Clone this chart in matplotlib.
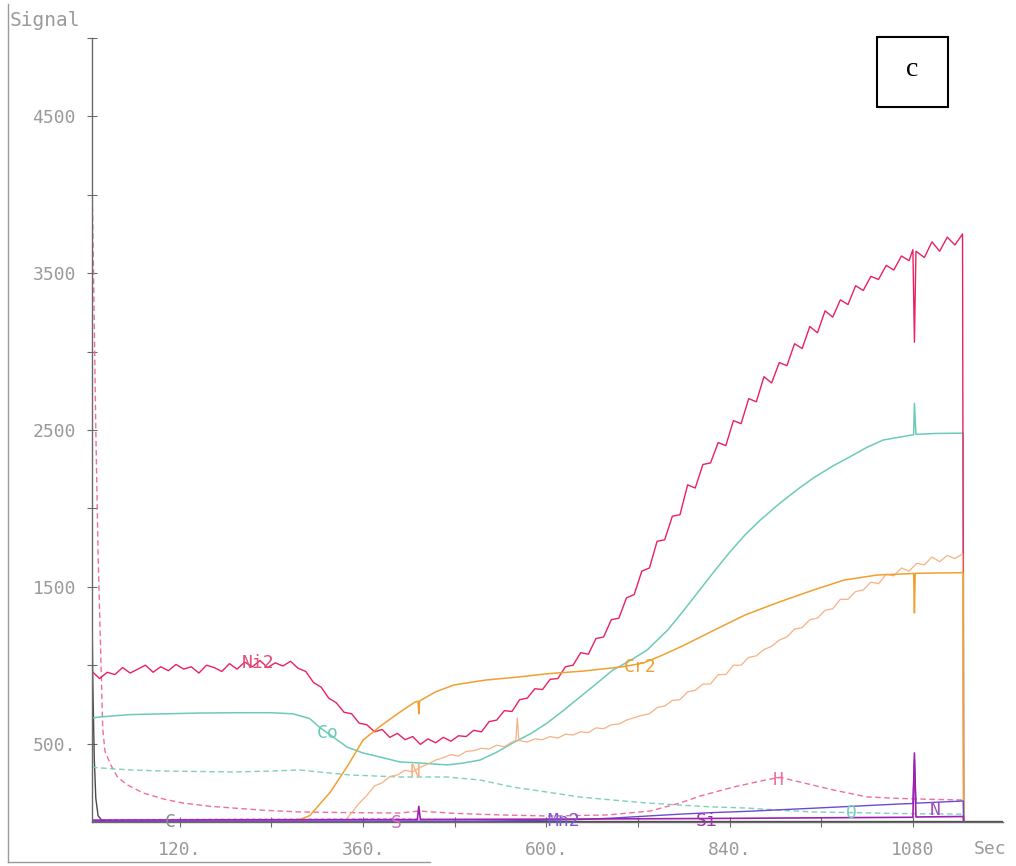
import matplotlib
matplotlib.use("Agg")
import matplotlib.pyplot as plt
from matplotlib.lines import Line2D
from matplotlib.patches import Rectangle

# ---------------- data (time in s, signal) ----------------
t_ni2 = [5, 15, 25, 35, 45, 55, 65, 75, 85, 95, 105, 115, 125, 135, 145, 155, 165, 175, 185, 195,
         205, 215, 225, 235, 245, 255, 265, 275, 285, 295, 305, 315, 325, 335, 345, 355, 365, 375,
         385, 395, 405, 415, 425, 435, 445, 455, 465, 475, 485, 495, 505, 515, 525, 535, 545, 555,
         565, 575, 585, 595, 605, 615, 625, 635, 645, 655, 665, 675, 685, 695, 705, 715, 725, 735,
         745, 755, 765, 775, 785, 795, 805, 815, 825, 835, 845, 855, 865, 875, 885, 895, 905, 915,
         925, 935, 945, 955, 965, 975, 985, 995, 1005, 1015, 1025, 1035, 1045, 1055, 1065, 1075,
         1080, 1082, 1084, 1095, 1105, 1115, 1125, 1135, 1145, 1146.5]
ni2 = [960, 915, 955, 940, 985, 950, 975, 1000, 955, 990, 965, 1005, 975, 990, 950, 1000, 985, 960,
       1010, 975, 1020, 990, 1030, 985, 1015, 995, 1025, 980, 960, 890, 860, 790, 760, 700, 690,
       630, 620, 575, 590, 540, 565, 525, 545, 495, 530, 505, 540, 515, 550, 545, 585, 575, 640,
       650, 710, 705, 780, 790, 850, 845, 910, 915, 990, 1000, 1080, 1070, 1170, 1180, 1290, 1300,
       1430, 1450, 1600, 1620, 1790, 1800, 1950, 1960, 2150, 2130, 2280, 2290, 2420, 2400, 2560,
       2540, 2700, 2680, 2840, 2800, 2930, 2910, 3050, 3020, 3160, 3120, 3260, 3220, 3330, 3300,
       3420, 3390, 3480, 3460, 3550, 3520, 3610, 3580, 3650, 3060, 3640, 3600, 3700, 3640, 3730,
       3680, 3750, 0]

t_co = [5, 15, 55, 100, 146, 200, 240, 268, 290, 304, 320, 339, 360, 382, 408, 435, 470, 490,
        513, 535, 556, 580, 601, 622, 644, 665, 687, 710, 732, 760, 780, 800, 820, 840, 860, 880,
        905, 930, 950, 975, 998, 1020, 1041, 1081, 1082, 1084, 1110, 1146, 1146.5]
co = [663, 670, 685, 690, 695, 697, 697, 690, 660, 600, 545, 478, 440, 415, 383, 376, 364, 375,
      395, 445, 504, 565, 631, 710, 797, 880, 969, 1030, 1097, 1230, 1350, 1475, 1600, 1720,
      1830, 1925, 2030, 2125, 2195, 2270, 2330, 2390, 2436, 2470, 2670, 2472, 2478, 2480, 0]

t_cr2 = [5, 100, 200, 260, 271, 290, 317, 340, 360, 385, 408, 428, 432, 433, 434, 455, 479, 520,
         564, 600, 649, 700, 727, 750, 778, 820, 860, 905, 950, 990, 1033, 1081, 1082, 1083,
         1110, 1146, 1146.5]
cr2 = [2, 3, 3, 3, 5, 40, 190, 360, 523, 620, 700, 765, 770, 690, 772, 830, 874, 905, 925, 945,
       963, 990, 1014, 1060, 1122, 1224, 1320, 1403, 1480, 1543, 1575, 1585, 1333, 1586, 1588,
       1590, 0]

t_n = [335, 345, 355, 365, 375, 385, 395, 405, 415, 425, 435, 445, 455, 465, 475, 485, 495, 505,
       515, 525, 535, 545, 555, 560, 562, 564, 575, 585, 595, 605, 615, 625, 635, 645, 655, 665,
       675, 685, 695, 705, 715, 725, 735, 745, 755, 765, 775, 785, 795, 805, 815, 825, 835, 845,
       855, 865, 875, 885, 895, 905, 915, 925, 935, 945, 955, 965, 975, 985, 995, 1005, 1015,
       1025, 1035, 1045, 1055, 1065, 1075, 1085, 1095, 1105, 1115, 1125, 1135, 1145, 1146.5]
n_sig = [0, 60, 120, 170, 230, 250, 290, 300, 330, 320, 350, 370, 395, 410, 430, 420, 450, 455,
         470, 465, 490, 480, 510, 520, 663, 520, 510, 530, 525, 545, 535, 560, 555, 575, 570, 600,
         595, 620, 625, 650, 665, 680, 690, 730, 740, 775, 780, 830, 840, 880, 880, 940, 940, 1000,
         1000, 1050, 1060, 1100, 1120, 1160, 1180, 1230, 1240, 1290, 1300, 1350, 1360, 1420, 1420,
         1470, 1480, 1530, 1520, 1580, 1570, 1620, 1600, 1650, 1640, 1690, 1660, 1700, 1680,
         1710, 0]

t_h = [5, 7, 10, 13, 16, 19, 22, 30, 38, 50, 72, 100, 124, 160, 190, 230, 277, 340, 408, 433,
       480, 540, 605, 680, 736, 775, 801, 845, 889, 906, 932, 976, 1020, 1063, 1100, 1146]
h_sig = [4100, 3500, 2500, 1700, 1150, 600, 450, 360, 290, 240, 185, 145, 121, 100, 89, 75, 64,
         60, 57, 70, 55, 45, 38, 45, 70, 121, 165, 223, 270, 285, 255, 204, 160, 150, 145, 140]

t_o = [5, 15, 30, 55, 100, 146, 190, 240, 277, 300, 343, 408, 470, 513, 556, 601, 644, 687, 732,
       775, 818, 863, 906, 950, 1000, 1050, 1100, 1146]
o_sig = [350, 345, 340, 332, 325, 322, 319, 325, 332, 320, 300, 287, 287, 268, 223, 191, 159, 140,
         121, 108, 96, 89, 75, 64, 60, 55, 52, 50]

t_c = [5, 6, 8, 10, 13, 18, 30, 600, 1146, 1198]
c_sig = [1380, 900, 400, 150, 40, 10, 5, 3, 3, 3]

t_s = [5, 200, 400, 431, 433, 435, 600, 800, 1000, 1080, 1082, 1084, 1146, 1146.5]
s_sig = [12, 14, 15, 15, 100, 16, 18, 22, 28, 30, 440, 32, 35, 0]

t_mn2 = [5, 500, 560, 601, 644, 687, 732, 775, 818, 863, 906, 950, 1000, 1063, 1080, 1082, 1084,
         1146, 1146.5]
mn2 = [3, 5, 8, 12, 16, 25, 38, 50, 60, 68, 78, 88, 100, 115, 118, 400, 120, 134, 0]

t_lav = [18, 100, 200, 300, 400, 500]
lav = [14, 16, 18, 18, 20, 14]

# curve labels: text, time, signal, colour
labels = [("Ni2", 222, 1015, "#e0507a"), ("Co", 314, 568, "#6ccbb8"),
          ("Cr2", 723, 988, "#f0a030"), ("N", 428, 319, "#f7b183"),
          ("C", 108, 0, "#8a8a8a"), ("S", 404, -8, "#d070c0"),
          ("Mn2", 622, 5, "#7a5ad0"), ("Si", 810, 5, "#a030b0"),
          ("H", 903, 268, "#f06e9a"), ("O", 1000, 55, "#7cd0c0"),
          ("N", 1109, 76, "#a050c0")]

x_ticks = [120, 240, 360, 480, 600, 720, 840, 960, 1080]
x_ticklabels = ["120.", "", "360.", "", "600.", "", "840.", "", "1080"]
y_ticks = [500, 1000, 1500, 2000, 2500, 3000, 3500, 4000, 4500, 5000]
y_ticklabels = ["500.", "", "1500", "", "2500", "", "3500", "", "4500", ""]

# ---------------- figure ----------------
W, H = 1016, 866
fig = plt.figure(figsize=(W / 100, H / 100), dpi=100)
ax = fig.add_axes([92 / W, 1 - 822 / H, 911 / W, 784 / H])

ax.plot(t_c, c_sig, color="#4a4a4a", lw=1.0)
ax.plot(t_lav, lav, color="#c77dd6", lw=0.9, ls=(0, (3, 2)))
ax.plot(t_h, h_sig, color="#f06e9a", lw=1.0, ls=(0, (4, 2.5)))
ax.plot(t_o, o_sig, color="#7cd0c0", lw=1.0, ls=(0, (4, 2.5)))
ax.plot(t_co, co, color="#6ccbb8", lw=1.1)
ax.plot(t_ni2, ni2, color="#e8215f", lw=1.0)
ax.plot(t_n, n_sig, color="#f7b183", lw=0.9)
ax.plot(t_cr2, cr2, color="#f0a030", lw=1.1)
ax.plot(t_mn2, mn2, color="#6a4ad0", lw=1.0)
ax.plot(t_s, s_sig, color="#a020b0", lw=1.2)

for txt, tx, ty, col in labels:
    ax.text(tx, ty, txt, color=col, fontsize=13, family="DejaVu Sans Mono",
            ha="center", va="center")

ax.set_xlim(5, 1198)
ax.set_ylim(0, 5000)
ax.set_xticks(x_ticks, x_ticklabels)
ax.set_yticks(y_ticks, y_ticklabels)
for s in ["top", "right"]:
    ax.spines[s].set_visible(False)
for s in ["left", "bottom"]:
    ax.spines[s].set_color("#6a6a6a")
    ax.spines[s].set_linewidth(1.0)
ax.tick_params(axis="both", direction="inout", length=7, width=0.8, colors="#6a6a6a",
               labelcolor="#9a9a9a", labelsize=13)
ax.tick_params(axis="x", pad=10)
ax.tick_params(axis="y", pad=8)
for lab in ax.get_xticklabels() + ax.get_yticklabels():
    lab.set_family("DejaVu Sans Mono")
ax.patch.set_visible(False)

fig.text(10 / W, 1 - 20 / H, "Signal", color="#9a9a9a", fontsize=14,
         family="DejaVu Sans Mono", va="center", ha="left")
fig.text(990 / W, 1 - 849 / H, "Sec", color="#9a9a9a", fontsize=13,
         family="DejaVu Sans Mono", va="center", ha="center")

# scan frame lines
fig.add_artist(Line2D([8 / W, 8 / W], [1 - 4 / H, 1 - 862 / H], color="#9a9a9a", lw=1.0))
fig.add_artist(Line2D([8 / W, 430 / W], [1 - 862 / H, 1 - 862 / H], color="#9a9a9a", lw=1.0))

# panel letter box
fig.add_artist(Rectangle((877 / W, 1 - 107 / H), 71 / W, 70 / H, fill=False, lw=1.5,
                         ec="black", transform=fig.transFigure))
fig.text(912 / W, 1 - 70 / H, "c", fontsize=20, family="Liberation Serif",
         ha="center", va="center")

fig.savefig("out.png", dpi=100)
